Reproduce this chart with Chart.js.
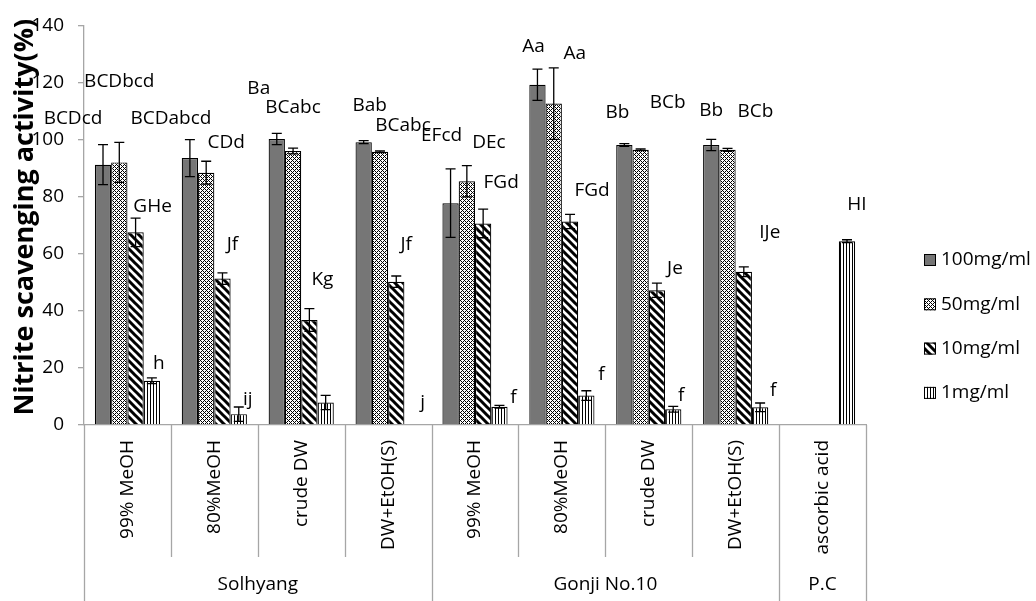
<!DOCTYPE html>
<html>
<head>
<meta charset="utf-8">
<script src="https://cdn.jsdelivr.net/npm/chart.js@4.4.1/dist/chart.umd.min.js"></script>
<style>
    html, body { margin: 0; padding: 0; background: #fff; }
    #wrap { width: 1036px; height: 601px; position: relative; }
</style>
</head>
<body>
<div id="wrap"><canvas id="nsa-canvas"></canvas></div>
<script>
// ========== Data
let extractList = ['99% MeOH', '80%MeOH', 'crude DW', 'DW+EtOH(S)', '99% MeOH', '80%MeOH', 'crude DW', 'DW+EtOH(S)', 'ascorbic acid'];
let groupList = ['Solhyang', 'Gonji No.10', 'P.C'];
let groupSize = [4, 4, 1];
let seriesNames = ['100mg/ml', '50mg/ml', '10mg/ml', '1mg/ml'];

let val100 = [91.2, 93.5, 100.2, 99.1, 77.7, 119.2, 98.1, 98.1, null];
let val50 = [92.0, 88.4, 96.0, 95.7, 85.4, 112.6, 96.4, 96.4, null];
let val10 = [67.5, 51.3, 36.8, 50.2, 70.6, 71.3, 47.2, 53.7, null];
let val1 = [15.5, 3.8, 7.9, 0, 6.4, 10.3, 5.5, 6.2, 64.4];

let err100 = [7, 6.5, 2, 0.5, 12, 5.5, 0.5, 2, null];
let err50 = [7, 4, 1, 0.3, 5.5, 12.5, 0.3, 0.5, null];
let err10 = [5, 2, 4, 2, 5, 2.5, 2.5, 1.7, null];
let err1 = [1, 2.5, 2.5, 0, 0.5, 1.7, 1, 1.5, 0.5];

let sig100 = ['BCDcd', 'BCDabcd', 'Ba', 'Bab', 'EFcd', 'Aa', 'Bb', 'Bb', ''];
let sig50 = ['BCDbcd', 'CDd', 'BCabc', 'BCabc', 'DEc', 'Aa', 'BCb', 'BCb', ''];
let sig10 = ['GHe', 'Jf', 'Kg', 'Jf', 'FGd', 'FGd', 'Je', 'IJe', ''];
let sig1 = ['h', 'ij', '', 'j', 'f', 'f', 'f', 'f', 'HI'];

let yTicks = [0, 20, 40, 60, 80, 100, 120, 140];

let errList = [err100, err50, err10, err1];
let sigList = [sig100, sig50, sig10, sig1];

// label nudges (px) from the default spot just above each error bar
let nudgeX = [
    [-30, -19, -18, 6, -9, -4, -7, 0, 0],
    [0, 20, 0, 23, 22, 21, 27, 28, 0],
    [17, 10, 13, 10, 18, 22, 18, 26, 0],
    [7, 9, 0, 10, 14, 15, 8, 13, 10]
];
let nudgeY = [
    [-12, -7, -31, -21, -19, -8, -17, -15, 0],
    [-47, -5, -27, -11, -9, 0, -32, -23, 0],
    [3, -14, -15, -17, -13, -10, -1, -20, 0],
    [0, 7, 0, -8, 6, -2, 3, 2, -21]
];

// ========== Styles
let axisColor = '#a6a6a6';
let textColor = '#000';
let fontFamily = "'Open Sans', sans-serif";
Chart.defaults.font.family = fontFamily;
Chart.defaults.color = textColor;

let canvas = document.getElementById('nsa-canvas');
let mainCtx = canvas.getContext('2d');

function makePattern(w, h, draw) {
    let c = document.createElement('canvas');
    c.width = w;
    c.height = h;
    let g = c.getContext('2d');
    g.fillStyle = '#fff';
    g.fillRect(0, 0, w, h);
    g.fillStyle = '#000';
    g.strokeStyle = '#000';
    draw(g);
    return mainCtx.createPattern(c, 'repeat');
}

let solidFill = '#767676';
let crossFill = makePattern(4, 4, g => {
    for (let x = 0; x < 4; x++) {
        for (let y = 0; y < 4; y++) {
            if ((x + y) % 4 === 0 || (x - y + 4) % 4 === 0) g.fillRect(x, y, 1, 1);
        }
    }
});
let diagFill = makePattern(8, 8, g => {
    g.lineWidth = 3;
    g.beginPath();
    g.moveTo(-2, -2); g.lineTo(10, 10);
    g.moveTo(6, -2); g.lineTo(10, 2);
    g.moveTo(-2, 6); g.lineTo(2, 10);
    g.stroke();
});
let vertFill = makePattern(3, 1, g => {
    g.fillRect(0, 0, 1, 1);
});
let fillList = [solidFill, crossFill, diagFill, vertFill];

// @ ========== Error bars
const errorBarPlugin = {
    id: 'errorBars',
    afterDatasetsDraw(chart) {
        let ctx = chart.ctx;
        let yScale = chart.scales.y;
        ctx.save();
        ctx.strokeStyle = '#000';
        ctx.lineWidth = 1.3;
        chart.data.datasets.forEach((ds, i) => {
            chart.getDatasetMeta(i).data.forEach((bar, j) => {
                let v = ds.data[j];
                let e = errList[i][j];
                if (v == null || !e) return;
                let yt = yScale.getPixelForValue(v + e);
                let yb = yScale.getPixelForValue(v - e);
                ctx.beginPath();
                ctx.moveTo(bar.x, yt); ctx.lineTo(bar.x, yb);
                ctx.moveTo(bar.x - 5, yt); ctx.lineTo(bar.x + 5, yt);
                ctx.moveTo(bar.x - 5, yb); ctx.lineTo(bar.x + 5, yb);
                ctx.stroke();
            });
        });
        ctx.restore();
    }
};

// @ ========== Letters above the bars
const sigLabelPlugin = {
    id: 'sigLabels',
    afterDatasetsDraw(chart) {
        let ctx = chart.ctx;
        let yScale = chart.scales.y;
        ctx.save();
        ctx.font = '19px ' + fontFamily;
        ctx.fillStyle = textColor;
        ctx.textAlign = 'center';
        ctx.textBaseline = 'middle';
        chart.data.datasets.forEach((ds, i) => {
            chart.getDatasetMeta(i).data.forEach((bar, j) => {
                let text = sigList[i][j];
                if (!text) return;
                let top = (ds.data[j] || 0) + (errList[i][j] || 0);
                let y = yScale.getPixelForValue(top) - 14 + nudgeY[i][j];
                ctx.fillText(text, bar.x + nudgeX[i][j], y);
            });
        });
        ctx.restore();
    }
};

// @ ========== Two-level category axis, y title, legend
const framePlugin = {
    id: 'frame',
    afterDraw(chart) {
        let ctx = chart.ctx;
        let xScale = chart.scales.x;
        let area = chart.chartArea;
        let step = (area.right - area.left) / extractList.length;
        let base = area.bottom;
        ctx.save();

        // separators
        ctx.strokeStyle = axisColor;
        ctx.lineWidth = 1.3;
        let edges = [0];
        groupSize.reduce((acc, n) => { edges.push(acc + n); return acc + n; }, 0);
        for (let k = 0; k <= extractList.length; k++) {
            let x = Math.round(area.left + k * step) + 0.5;
            let long = edges.includes(k);
            ctx.beginPath();
            ctx.moveTo(x, base);
            ctx.lineTo(x, long ? 601 : base + 132);
            ctx.stroke();
        }

        // rotated category names
        ctx.fillStyle = textColor;
        ctx.font = '19px ' + fontFamily;
        extractList.forEach((name, i) => {
            let x = xScale.getPixelForValue(i);
            ctx.save();
            ctx.translate(x, base + 15);
            ctx.rotate(-Math.PI / 2);
            ctx.textAlign = 'right';
            ctx.textBaseline = 'middle';
            ctx.fillText(name, 0, 0);
            ctx.restore();
        });

        // group names
        ctx.textAlign = 'center';
        ctx.textBaseline = 'middle';
        groupList.forEach((name, g) => {
            let x0 = area.left + edges[g] * step;
            let x1 = area.left + edges[g + 1] * step;
            ctx.fillText(name, (x0 + x1) / 2, base + 160);
        });

        // y title
        ctx.save();
        ctx.translate(33, (area.top + area.bottom) / 2 - 8);
        ctx.rotate(-Math.PI / 2);
        ctx.font = 'bold 27px ' + fontFamily;
        ctx.textAlign = 'center';
        ctx.textBaseline = 'alphabetic';
        ctx.fillText('Nitrite scavenging activity(%)', 0, 0);
        ctx.restore();

        // legend
        ctx.font = '19px ' + fontFamily;
        ctx.textAlign = 'left';
        seriesNames.forEach((name, i) => {
            let y = 260 + i * 44.3;
            ctx.fillStyle = fillList[i];
            ctx.fillRect(924, y - 6, 12, 12);
            ctx.strokeStyle = '#000';
            ctx.lineWidth = 1;
            ctx.strokeRect(924.5, y - 5.5, 11, 11);
            ctx.fillStyle = textColor;
            ctx.fillText(name, 941, y);
        });
        ctx.restore();
    }
};

function renderNitriteChart() {
    let values = [val100, val50, val10, val1];
    let nsaChart = new Chart(canvas, {
        type: 'bar',
        data: {
            labels: extractList,
            datasets: seriesNames.map((name, i) => ({
                label: name,
                data: values[i],
                backgroundColor: fillList[i],
                borderColor: '#000',
                borderWidth: 1.2,
                categoryPercentage: 0.75,
                barPercentage: 1
            }))
        },
        options: {
            responsive: true,
            maintainAspectRatio: false,
            animation: false,
            layout: { padding: { left: 0, right: 170, top: 18, bottom: 0 } },
            plugins: {
                legend: { display: false },
                tooltip: { enabled: false }
            },
            scales: {
                x: {
                    ticks: { display: false },
                    grid: { display: false },
                    border: { display: true, color: axisColor, width: 1.3 },
                    afterFit: s => { s.height = 176; }
                },
                y: {
                    min: yTicks[0],
                    max: yTicks[yTicks.length - 1],
                    afterBuildTicks: s => { s.ticks = yTicks.map(v => ({ value: v })); },
                    ticks: { font: { size: 19 }, color: textColor, padding: 14 },
                    grid: { display: true, drawOnChartArea: false, drawTicks: true, tickLength: 6, color: axisColor, lineWidth: 1.3 },
                    border: { display: true, color: axisColor, width: 1.3 },
                    afterFit: s => { s.width = 84; }
                }
            }
        },
        plugins: [errorBarPlugin, sigLabelPlugin, framePlugin]
    });
    return nsaChart;
}

renderNitriteChart();
</script>
</body>
</html>
